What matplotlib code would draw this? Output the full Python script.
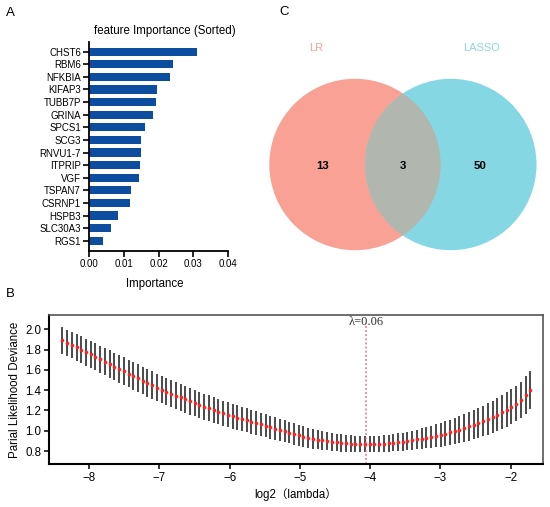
import numpy as np
import matplotlib
matplotlib.use("Agg")
import matplotlib.pyplot as plt
from matplotlib.patches import Circle

plt.rcParams['font.family'] = ['Liberation Sans', 'Noto Sans CJK SC', 'DejaVu Sans']

# panel A data
genes = ["CHST6", "RBM6", "NFKBIA", "KIFAP3", "TUBB7P", "GRINA", "SPCS1", "SCG3",
         "RNVU1-7", "ITPRIP", "VGF", "TSPAN7", "CSRNP1", "HSPB3", "SLC30A3", "RGS1"]
importance = [0.0310, 0.0243, 0.0234, 0.0196, 0.0192, 0.0183, 0.0161, 0.0150,
              0.0148, 0.0147, 0.0145, 0.0121, 0.0117, 0.0084, 0.0064, 0.0040]

# panel B data (100 lambdas, log2 scale)
log2_lambda_start = -8.38
log2_lambda_end = -1.72
deviance = [1.890, 1.867, 1.845, 1.822, 1.799, 1.776, 1.753, 1.729, 1.705, 1.681,
            1.657, 1.633, 1.609, 1.586, 1.563, 1.541, 1.518, 1.495, 1.472, 1.449,
            1.426, 1.405, 1.385, 1.366, 1.347, 1.328, 1.309, 1.290, 1.271, 1.253,
            1.237, 1.221, 1.205, 1.189, 1.173, 1.157, 1.143, 1.130, 1.116, 1.103,
            1.089, 1.076, 1.062, 1.049, 1.035, 1.021, 1.008, 0.994, 0.981, 0.967,
            0.954, 0.942, 0.931, 0.921, 0.912, 0.904, 0.897, 0.891, 0.885, 0.880,
            0.876, 0.872, 0.869, 0.867, 0.866, 0.866, 0.867, 0.869, 0.872, 0.876,
            0.881, 0.886, 0.892, 0.899, 0.906, 0.914, 0.922, 0.931, 0.940, 0.950,
            0.960, 0.972, 0.984, 0.997, 1.011, 1.026, 1.042, 1.059, 1.077, 1.096,
            1.116, 1.137, 1.159, 1.183, 1.209, 1.237, 1.268, 1.305, 1.350, 1.400]
dev_err = [0.130, 0.131, 0.131, 0.132, 0.132, 0.133, 0.133, 0.134, 0.134, 0.135,
           0.135, 0.135, 0.136, 0.136, 0.136, 0.136, 0.136, 0.136, 0.136, 0.135,
           0.135, 0.135, 0.134, 0.134, 0.133, 0.133, 0.132, 0.131, 0.130, 0.130,
           0.129, 0.128, 0.127, 0.126, 0.125, 0.124, 0.123, 0.122, 0.121, 0.119,
           0.118, 0.117, 0.115, 0.114, 0.112, 0.111, 0.109, 0.108, 0.106, 0.105,
           0.103, 0.101, 0.099, 0.097, 0.095, 0.093, 0.091, 0.089, 0.087, 0.086,
           0.084, 0.083, 0.082, 0.081, 0.080, 0.080, 0.080, 0.081, 0.082, 0.083,
           0.085, 0.087, 0.089, 0.092, 0.095, 0.098, 0.101, 0.105, 0.109, 0.113,
           0.117, 0.121, 0.125, 0.129, 0.133, 0.137, 0.141, 0.145, 0.149, 0.152,
           0.156, 0.159, 0.163, 0.166, 0.169, 0.172, 0.176, 0.180, 0.185, 0.190]
lambda_min = 0.06

# panel C data
set_names = ["LR", "LASSO"]
venn_counts = [13, 3, 50]  # LR only, both, LASSO only

W, H = 550, 507
fig = plt.figure(figsize=(W / 100, H / 100), dpi=100)

def box(l, t, r, b):
    return [l / W, 1 - b / H, (r - l) / W, (b - t) / H]

# ---- A
axA = fig.add_axes(box(89.3, 41.7, 227.7, 250.7))
pos = np.arange(len(genes))
axA.barh(pos, importance, height=0.64, color='#0C4DA0')
axA.set_yticks(pos)
axA.set_yticklabels(genes, fontsize=7)
axA.set_ylim(len(genes) - 1 + 0.79, -0.79)
axA.set_xlim(0, 0.04)
axA.set_xticks([0, 0.01, 0.02, 0.03, 0.04])
axA.set_xticklabels(["0.00", "0.01", "0.02", "0.03", "0.04"], fontsize=7)
for s in ['top', 'right']:
    axA.spines[s].set_visible(False)
for s in ['left', 'bottom']:
    axA.spines[s].set_linewidth(1.3)
axA.tick_params(width=1.2, length=4, pad=2)
fig.text(165 / W, 1 - 31 / H, "feature Importance (Sorted)", fontsize=8.3,
         ha='center', va='center')
fig.text(155 / W, 1 - 284 / H, "Importance", fontsize=8.3, ha='center', va='center')
fig.text(6 / W, 1 - 13.3 / H, "A", fontsize=9.5, ha='left', va='center')

# ---- B
axB = fig.add_axes(box(49, 315, 543, 464))
x = np.linspace(log2_lambda_start, log2_lambda_end, len(deviance))
axB.errorbar(x, deviance, yerr=dev_err, fmt='none', ecolor='#222222',
             elinewidth=1.15, capsize=0)
axB.plot(x, deviance, 'o', color='#FF2020', markersize=2.6, markeredgewidth=0)
xl = np.log2(lambda_min)
axB.axvline(xl, ymax=0.945, color='#F06A78', linestyle=(0, (1.2, 1.5)), linewidth=1.1)
axB.text(xl, 2.075, "λ=0.06", family=['Liberation Serif', 'DejaVu Serif'],
         fontsize=9, ha='center', va='center', color='#333333')
axB.set_xlim(-8.57, -1.54)
axB.set_ylim(0.672, 2.141)
axB.set_xticks([-8, -7, -6, -5, -4, -3, -2])
axB.set_xticklabels(["\u22128", "\u22127", "\u22126", "\u22125", "\u22124", "\u22123", "\u22122"],
                    fontsize=8.3)
axB.set_yticks([0.8, 1.0, 1.2, 1.4, 1.6, 1.8, 2.0])
axB.set_yticklabels(["0.8", "1.0", "1.2", "1.4", "1.6", "1.8", "2.0"], fontsize=8.3)
axB.tick_params(width=1.1, length=3.5, pad=2)
for s in ['left', 'bottom']:
    axB.spines[s].set_linewidth(1.5)
for s in ['top', 'right']:
    axB.spines[s].set_linewidth(1.2)
    axB.spines[s].set_color('#555555')
axB.set_ylabel("Parial Likelihood Deviance", fontsize=8.3, labelpad=3)
fig.text(296 / W, 1 - 495 / H, "log2（lambda）", fontsize=8.3, ha='center', va='center')
fig.text(5.5 / W, 1 - 294 / H, "B", fontsize=9.5, ha='left', va='center')

# ---- C
axC = fig.add_axes([0, 0, 1, 1], zorder=-1)
axC.set_xlim(0, W)
axC.set_ylim(H, 0)
axC.axis('off')
r = 85.7
cl = (355, 164.5)
cr = (450.8, 164.5)
left = Circle(cl, r, facecolor='#F8A194', edgecolor='none')
right = Circle(cr, r, facecolor='#85D8E3', edgecolor='none')
axC.add_patch(left)
axC.add_patch(right)
both = Circle(cl, r, facecolor='#B1B6AF', edgecolor='none')
axC.add_patch(both)
both.set_clip_path(right)
axC.text(315.7, 47.7, set_names[0], fontsize=8, color='#F4A29A', ha='center', va='center')
axC.text(481.7, 47.7, set_names[1], fontsize=8, color='#8CD6E0', ha='center', va='center')
for cx, n in zip([322.3, 403.3, 480], venn_counts):
    axC.text(cx, 165.7, str(n), fontsize=8.2, fontweight='bold', ha='center', va='center')
fig.text(279 / W, 1 - 11.7 / H, "C", fontsize=9.5, ha='left', va='center')

fig.savefig("out.png", dpi=100)
